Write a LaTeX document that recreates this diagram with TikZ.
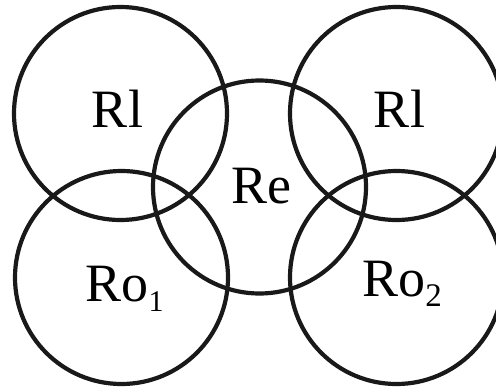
\documentclass[tikz,border=0pt]{standalone}
\usepackage{fontspec}
\setmainfont{Liberation Serif}
\begin{document}
\begin{tikzpicture}[x=1pt,y=-1pt,
  ring/.style={draw=black!90,line width=4.2pt},
  lbl/.style={anchor=base,inner sep=0pt,font=\fontsize{54}{60}\selectfont}]
\useasboundingbox (0,0) rectangle (496,388);
\clip (0,0) rectangle (496,388);
\fill[white] (0,0) rectangle (496,388);
\draw[ring] (120.5,113.5) circle (106.5);
\draw[ring] (396.5,113.5) circle (106.5);
\draw[ring] (121.5,277.5) circle (106.5);
\draw[ring] (396.5,277.5) circle (106.5);
\draw[ring] (259.5,187) circle (106.5);
\node[lbl] (rl1) at (117.5,127) {Rl};
\node[lbl] (rl2) at (399.5,127) {Rl};
\node[lbl] (re) at (261,203) {Re};
\node[lbl] (ro1) at (124.5,301) {Ro\raisebox{-0.19em}{\fontsize{30}{30}\selectfont 1}};
\node[lbl] (ro2) at (402,296) {Ro\raisebox{-0.2em}{\fontsize{33}{33}\selectfont 2}};
\end{tikzpicture}
\end{document}
